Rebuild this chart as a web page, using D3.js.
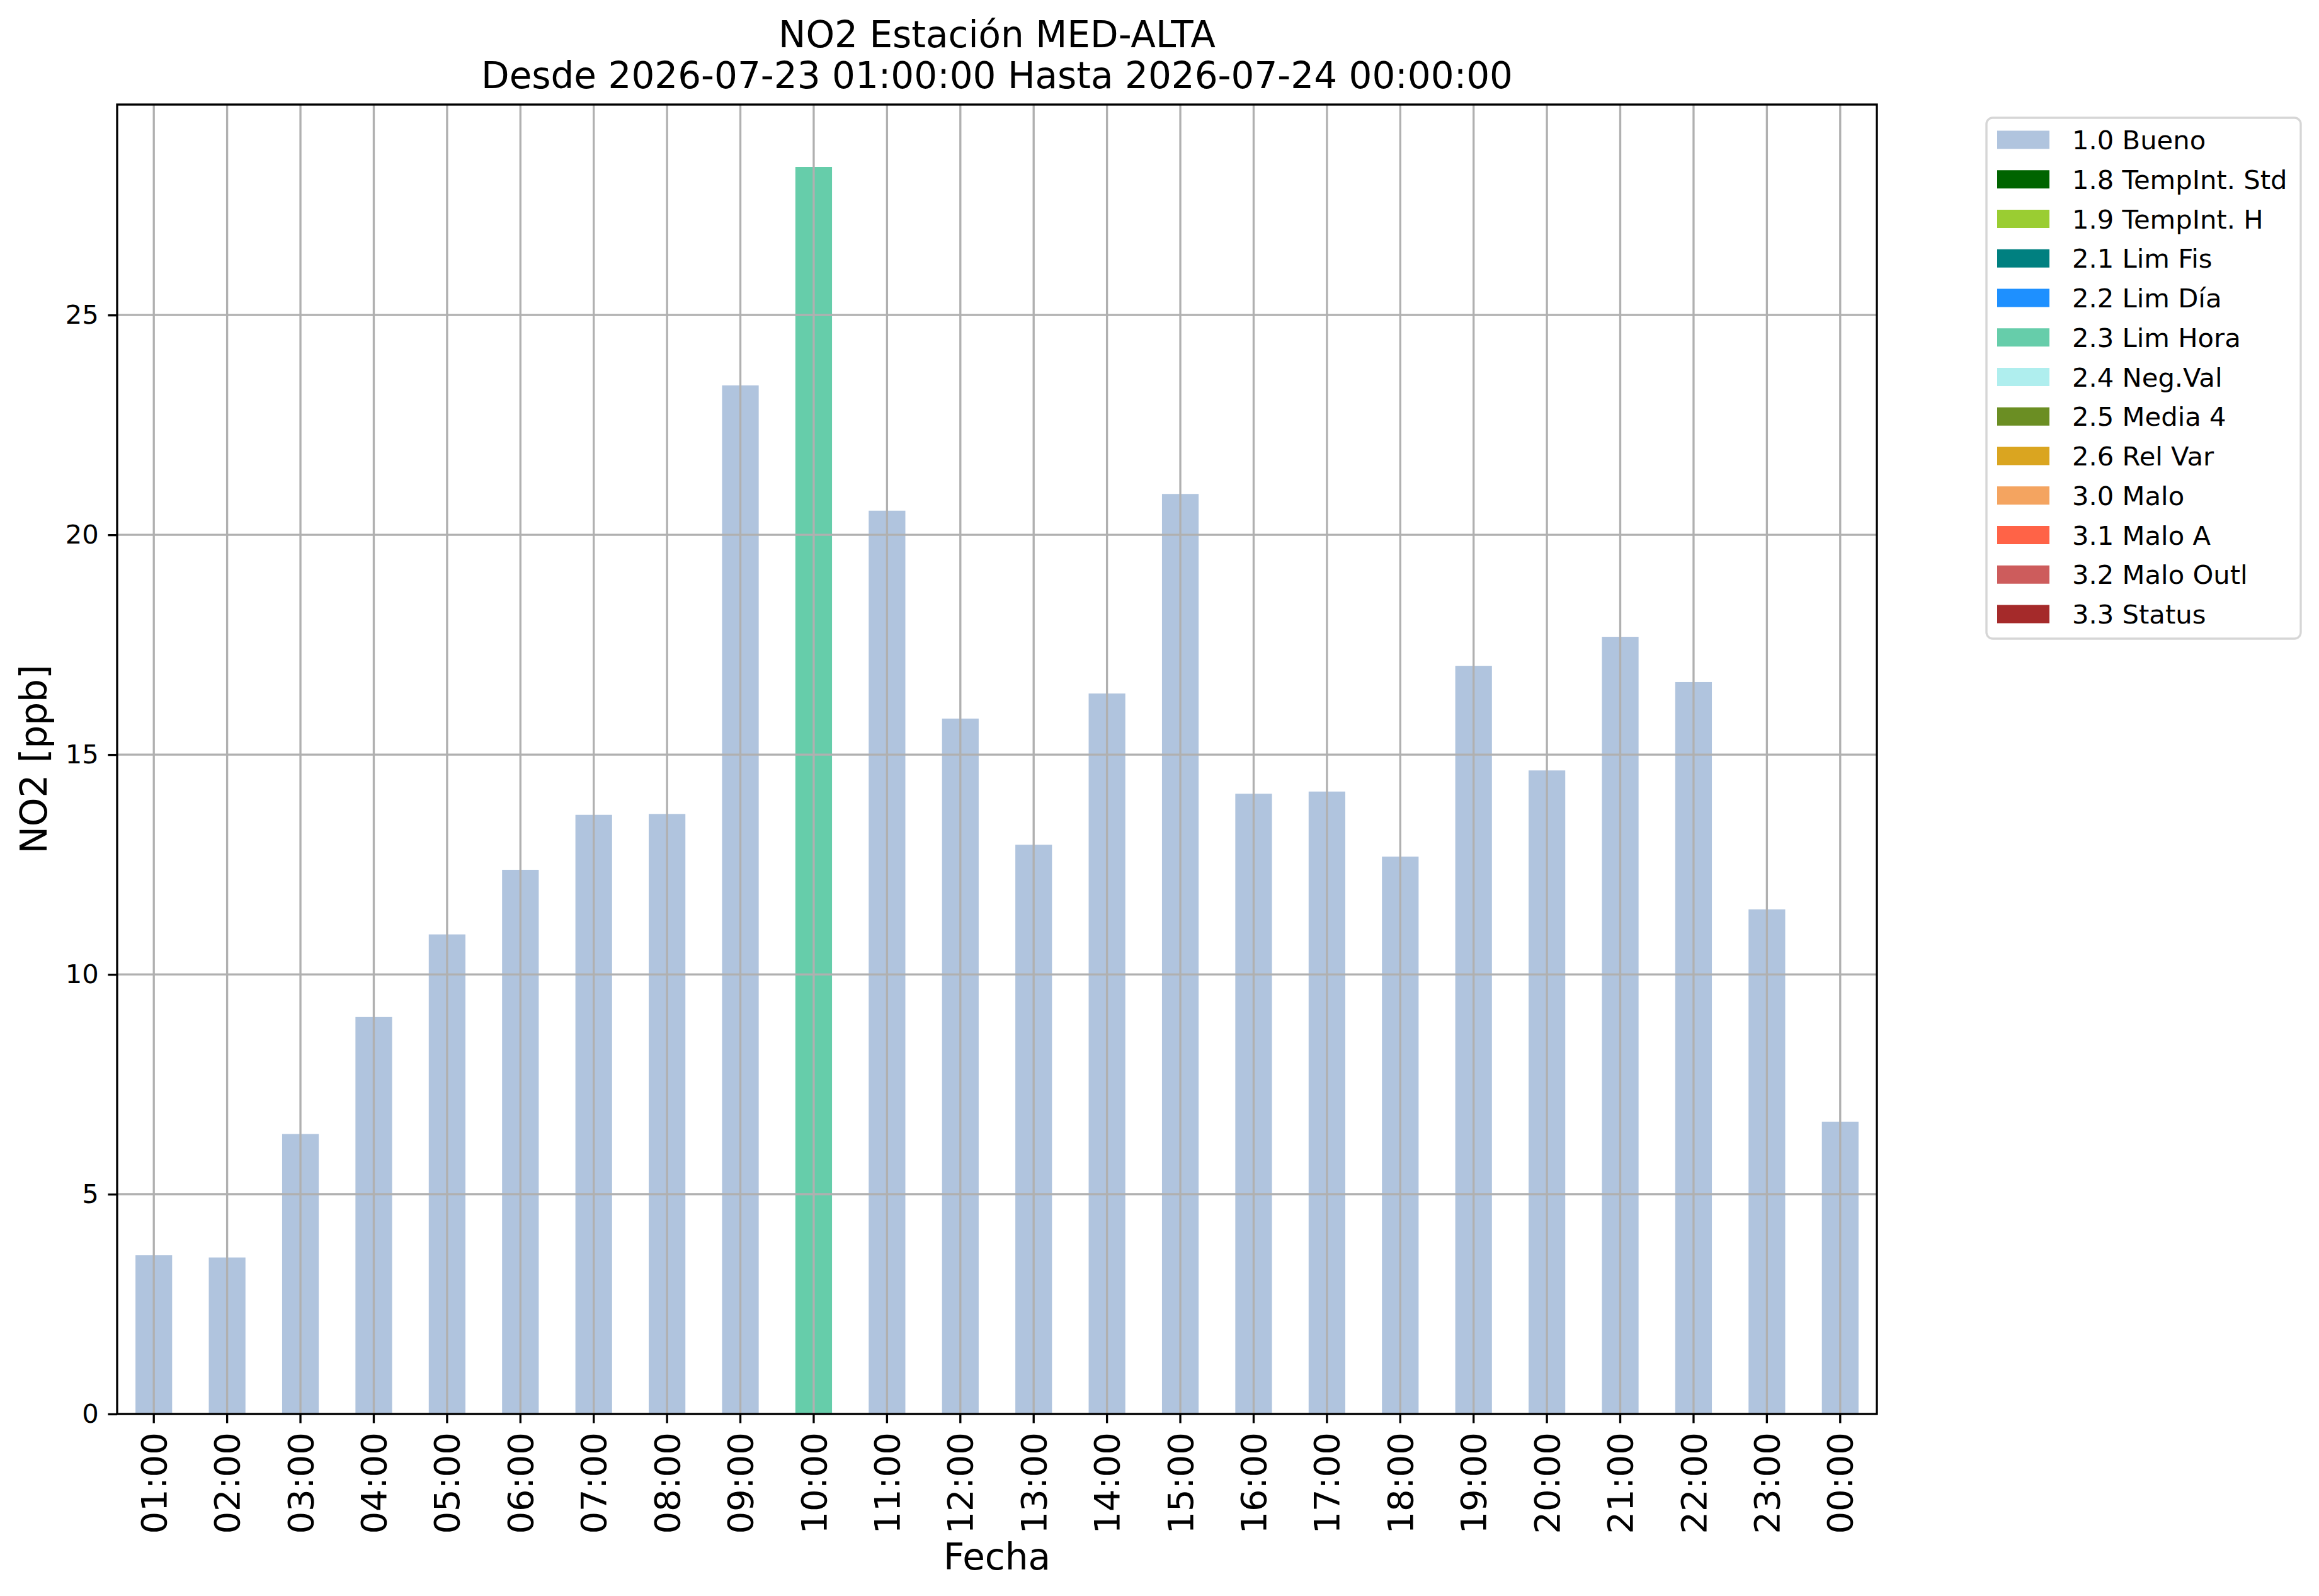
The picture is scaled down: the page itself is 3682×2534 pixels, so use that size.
<!DOCTYPE html>
<html>
<head>
<meta charset="utf-8">
<script src="https://cdn.jsdelivr.net/npm/d3@7"></script>
<style>
  body { margin: 0; background: #fff; }
  text { font-family: "DejaVu Sans", sans-serif; fill: #000; }
</style>
</head>
<body>
<div id="chart"></div>
<script>
// data
let hours = ["01:00","02:00","03:00","04:00","05:00","06:00","07:00","08:00","09:00","10:00","11:00","12:00",
             "13:00","14:00","15:00","16:00","17:00","18:00","19:00","20:00","21:00","22:00","23:00","00:00"];
let no2 = [3.61, 3.56, 6.37, 9.03, 10.91, 12.38, 13.63, 13.65, 23.40, 28.37, 20.55, 15.82,
           12.95, 16.39, 20.93, 14.11, 14.16, 12.68, 17.02, 14.64, 17.68, 16.65, 11.48, 6.65];
let flags = ["1.0","1.0","1.0","1.0","1.0","1.0","1.0","1.0","1.0","2.3","1.0","1.0",
             "1.0","1.0","1.0","1.0","1.0","1.0","1.0","1.0","1.0","1.0","1.0","1.0"];

let flagCodes = ["1.0","1.8","1.9","2.1","2.2","2.3","2.4","2.5","2.6","3.0","3.1","3.2","3.3"];
let flagNames = ["1.0 Bueno","1.8 TempInt. Std","1.9 TempInt. H","2.1 Lim Fis","2.2 Lim Día","2.3 Lim Hora",
                 "2.4 Neg.Val","2.5 Media 4","2.6 Rel Var","3.0 Malo","3.1 Malo A","3.2 Malo Outl","3.3 Status"];
let flagColors = ["lightsteelblue","darkgreen","yellowgreen","teal","dodgerblue","mediumaquamarine",
                  "paleturquoise","olivedrab","goldenrod","sandybrown","tomato","indianred","brown"];

let yTicks = [0, 5, 10, 15, 20, 25];

let svgWidth = 3682;
let svgHeight = 2534;
let margin = {top: 166, right: 702, bottom: 289, left: 186};
let chartWidth = svgWidth - margin.left - margin.right;
let chartHeight = svgHeight - margin.top - margin.bottom;

let pt = 300 / 72;          // matplotlib points -> px at 300 dpi
let lw = 0.8 * pt;
let gridColor = "#b0b0b0";

let svg = d3.select("#chart")
    .append("svg")
    .attr("width", svgWidth)
    .attr("height", svgHeight);

svg.append("rect").attr("width", svgWidth).attr("height", svgHeight).attr("fill", "#fff");

let chartGroup = svg.append("g")
    .attr("transform", `translate(${margin.left}, ${margin.top})`);

let xScale = d3.scaleBand()
    .domain(hours)
    .range([0, chartWidth])
    .paddingInner(0.5)
    .paddingOuter(0.25);

let yScale = d3.scaleLinear()
    .domain([0, d3.max(no2) * 1.05])
    .range([chartHeight, 0]);

let colorScale = d3.scaleOrdinal()
    .domain(flagCodes)
    .range(flagColors);

let rows = hours.map((h, i) => ({hour: h, value: no2[i], flag: flags[i]}));

// bars
chartGroup.selectAll("rect.bar")
    .data(rows)
    .enter()
    .append("rect")
    .attr("class", "bar")
    .attr("x", d => xScale(d.hour))
    .attr("y", d => yScale(d.value))
    .attr("width", xScale.bandwidth())
    .attr("height", d => chartHeight - yScale(d.value))
    .attr("fill", d => colorScale(d.flag));

// grid on top of bars (matplotlib default)
let xc = h => xScale(h) + xScale.bandwidth() / 2;

chartGroup.append("g")
    .selectAll("line")
    .data(hours)
    .enter()
    .append("line")
    .attr("x1", xc).attr("x2", xc)
    .attr("y1", 0).attr("y2", chartHeight)
    .attr("stroke", gridColor)
    .attr("stroke-width", lw);

chartGroup.append("g")
    .selectAll("line")
    .data(yTicks)
    .enter()
    .append("line")
    .attr("x1", 0).attr("x2", chartWidth)
    .attr("y1", d => yScale(d)).attr("y2", d => yScale(d))
    .attr("stroke", gridColor)
    .attr("stroke-width", lw);

// axes
let tickLen = 3.5 * pt;

let xAxis = chartGroup.append("g")
    .attr("transform", `translate(0, ${chartHeight})`)
    .call(d3.axisBottom(xScale).tickSize(tickLen).tickPadding(3.5 * pt).tickSizeOuter(0));

xAxis.select(".domain").remove();
xAxis.selectAll(".tick line").attr("stroke", "#000").attr("stroke-width", lw);
xAxis.selectAll(".tick text")
    .attr("font-size", 56)
    .attr("font-family", "DejaVu Sans")
    .attr("text-anchor", "end")
    .attr("transform", `translate(0, ${tickLen + 3.5 * pt}) rotate(-90)`)
    .attr("x", 0)
    .attr("y", 0)
    .attr("dy", "0.35em");

let yAxis = chartGroup.append("g")
    .call(d3.axisLeft(yScale).tickValues(yTicks).tickSize(tickLen).tickPadding(3.5 * pt).tickSizeOuter(0));

yAxis.select(".domain").remove();
yAxis.selectAll(".tick line").attr("stroke", "#000").attr("stroke-width", lw);
yAxis.selectAll(".tick text")
    .attr("font-size", 41.7)
    .attr("font-family", "DejaVu Sans");

// spines
chartGroup.append("rect")
    .attr("x", 0).attr("y", 0)
    .attr("width", chartWidth).attr("height", chartHeight)
    .attr("fill", "none")
    .attr("stroke", "#000")
    .attr("stroke-width", lw);

// titles and labels
let cx = margin.left + chartWidth / 2;

svg.append("text")
    .attr("x", cx).attr("y", 75)
    .attr("text-anchor", "middle")
    .attr("font-size", 58)
    .text("NO2 Estación MED-ALTA");

svg.append("text")
    .attr("x", cx).attr("y", 140)
    .attr("text-anchor", "middle")
    .attr("font-size", 58)
    .text("Desde 2026-07-23 01:00:00 Hasta 2026-07-24 00:00:00");

svg.append("text")
    .attr("x", cx).attr("y", 2492)
    .attr("text-anchor", "middle")
    .attr("font-size", 58)
    .text("Fecha");

svg.append("text")
    .attr("transform", `translate(74, ${margin.top + chartHeight / 2}) rotate(-90)`)
    .attr("text-anchor", "middle")
    .attr("font-size", 58)
    .text("NO2 [ppb]");

// legend
let legend = svg.append("g");

legend.append("rect")
    .attr("x", 3154).attr("y", 187)
    .attr("width", 499).attr("height", 827)
    .attr("rx", 10).attr("ry", 10)
    .attr("fill", "#fff")
    .attr("stroke", "#d6d6d6")
    .attr("stroke-width", lw);

let items = legend.selectAll("g.item")
    .data(flagCodes)
    .enter()
    .append("g")
    .attr("class", "item")
    .attr("transform", (d, i) => `translate(3171, ${222 + i * 62.75})`);

items.append("rect")
    .attr("x", 0).attr("y", -14.5)
    .attr("width", 83).attr("height", 29)
    .attr("fill", d => colorScale(d));

items.append("text")
    .attr("x", 119).attr("y", 0)
    .attr("dy", "0.36em")
    .attr("font-size", 41.7)
    .text((d, i) => flagNames[i]);
</script>
</body>
</html>
